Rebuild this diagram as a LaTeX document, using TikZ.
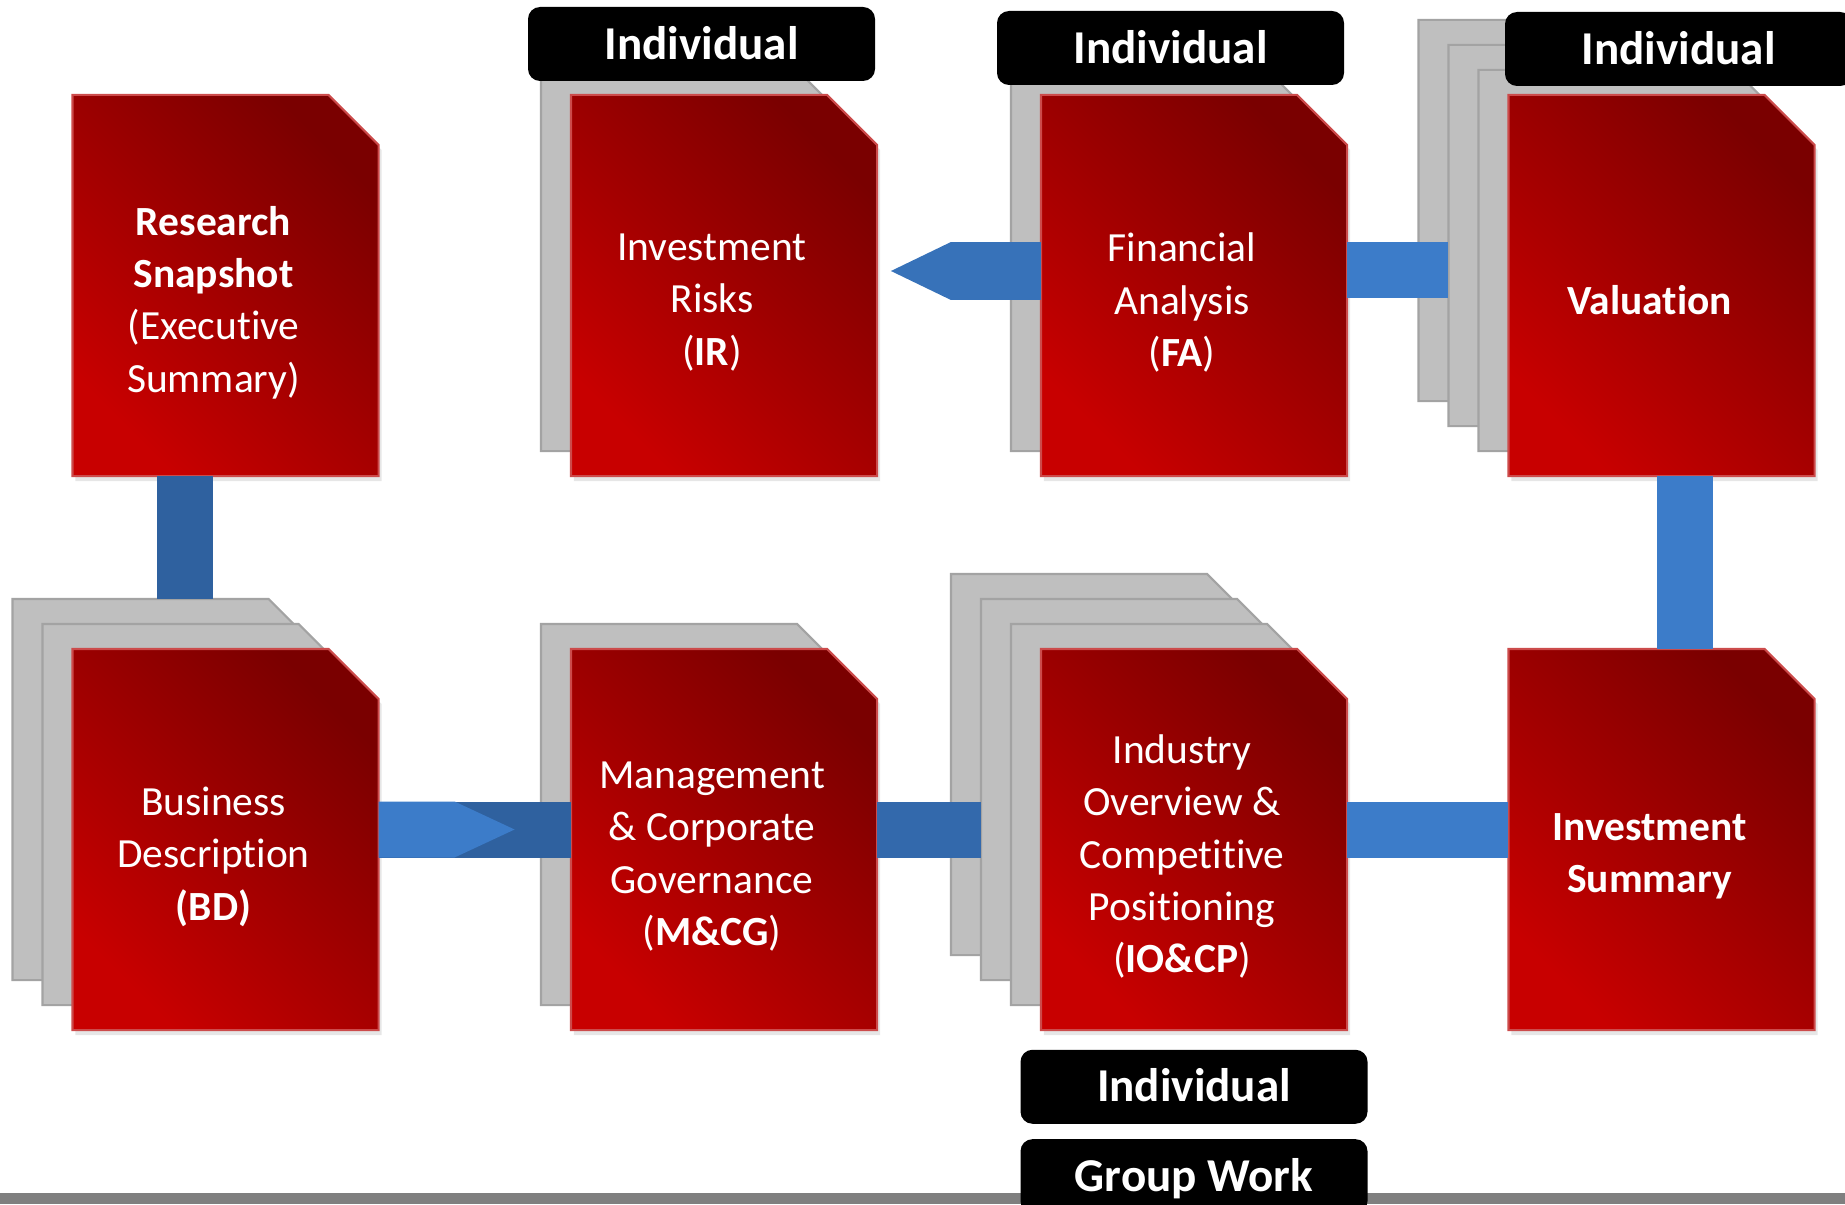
\documentclass[tikz,border=0pt]{standalone}
\usepackage{fontspec}
\setmainfont{Carlito}[Ligatures=NoCommon]
\usepackage{xcolor}
\usepackage{tikz}
\usetikzlibrary{positioning}
\usetikzlibrary{shadows}

\definecolor{sheetdark}{HTML}{7A0000}
\definecolor{sheetlight}{HTML}{C80000}
\definecolor{sheetedge}{HTML}{CC4B4B}
\definecolor{backfill}{HTML}{BFBFBF}
\definecolor{backedge}{HTML}{A3A3A3}
\definecolor{linklight}{HTML}{3C7CC9}
\definecolor{linkmid}{HTML}{3369AC}
\definecolor{linkdark}{HTML}{2F619F}
\definecolor{linkarrow}{HTML}{3772B9}
\definecolor{footgray}{HTML}{7F7F7F}

% rectangle with its upper right corner cut off
\makeatletter
\pgfdeclareshape{cutsheet}{
  \inheritsavedanchors[from=rectangle]
  \inheritanchorborder[from=rectangle]
  \inheritanchor[from=rectangle]{center}
  \inheritanchor[from=rectangle]{north}
  \inheritanchor[from=rectangle]{south}
  \inheritanchor[from=rectangle]{east}
  \inheritanchor[from=rectangle]{west}
  \inheritanchor[from=rectangle]{north west}
  \inheritanchor[from=rectangle]{south west}
  \inheritanchor[from=rectangle]{south east}
  \backgroundpath{
    \southwest \pgf@xa=\pgf@x \pgf@ya=\pgf@y
    \northeast \pgf@xb=\pgf@x \pgf@yb=\pgf@y
    \pgf@xc=\pgf@xb \advance\pgf@xc by -.5cm
    \pgf@yc=\pgf@yb \advance\pgf@yc by -.5cm
    \pgfpathmoveto{\pgfqpoint{\pgf@xa}{\pgf@ya}}
    \pgfpathlineto{\pgfqpoint{\pgf@xa}{\pgf@yb}}
    \pgfpathlineto{\pgfqpoint{\pgf@xc}{\pgf@yb}}
    \pgfpathlineto{\pgfqpoint{\pgf@xb}{\pgf@yc}}
    \pgfpathlineto{\pgfqpoint{\pgf@xb}{\pgf@ya}}
    \pgfpathclose
  }
}
\makeatother

\tikzset{
  sheet/.style={cutsheet, minimum width=3.04cm, minimum height=3.79cm,
    inner sep=0pt, line width=.6pt},
  back/.style={sheet, fill=backfill, draw=backedge},
  page/.style={sheet, draw=sheetedge, top color=sheetdark, bottom color=sheetlight,
    shading angle=-45, drop shadow={opacity=.2, shadow xshift=.03cm, shadow yshift=-.05cm}},
  pagetext/.style={text=white, align=center, font=\fontsize{11.8}{14.9}\selectfont},
  tag/.style={fill=black, rounded corners=.12cm, text=white, minimum width=3.47cm,
    minimum height=.74cm, inner sep=0pt, text height=8.6pt, text depth=0pt,
    font=\fontsize{13.4}{16}\selectfont\bfseries},
  link/.style={line width=.56cm},
}

\begin{document}
\begin{tikzpicture}
    \useasboundingbox (0,0) rectangle (18.45,-12.04);

    % sheet centres
    \coordinate (Crs)  at (2.255,-2.855);
    \coordinate (Cir)  at (7.24,-2.855);
    \coordinate (Cfa)  at (11.94,-2.855);
    \coordinate (Cval) at (16.615,-2.855);
    \coordinate (Cbd)  at (2.255,-8.395);
    \coordinate (Cmcg) at (7.24,-8.395);
    \coordinate (Cio)  at (11.94,-8.395);
    \coordinate (Cis)  at (16.615,-8.395);

    % grey sheets stacked behind
    \foreach \s/\n in {ir/1,fa/1,val/3,bd/2,mcg/1,io/3}
        \foreach \k in {\n,...,1}
            \node[back] (\s\k) at ([shift={(-.3*\k,.25*\k)}]C\s) {};

    % red sheets
    \node[page] (rs)  at (Crs)  {};
    \node[page] (ir)  at (Cir)  {};
    \node[page] (fa)  at (Cfa)  {};
    \node[page] (val) at (Cval) {};
    \node[page] (bd)  at (Cbd)  {};
    \node[page] (mcg) at (Cmcg) {};
    \node[page] (io)  at (Cio)  {};
    \node[page] (is)  at (Cis)  {};

    \node[pagetext] (rstxt)  at ([shift={(-.12,-.17)}]rs.center)  {\textbf{Research}\\\textbf{Snapshot}\\(Executive\\Summary)};
    \node[pagetext] (irtxt)  at ([shift={(-.12,-.17)}]ir.center)  {Investment\\Risks\\(\textbf{IR})};
    \node[pagetext] (fatxt)  at ([shift={(-.12,-.17)}]fa.center)  {Financial\\Analysis\\(\textbf{FA})};
    \node[pagetext] (valtxt) at ([shift={(-.12,-.15)}]val.center) {\textbf{Valuation}};
    \node[pagetext] (bdtxt)  at ([shift={(-.12,-.17)}]bd.center)  {Business\\Description\\\textbf{(BD)}};
    \node[pagetext] (mcgtxt) at ([shift={(-.12,-.17)}]mcg.center) {Management\\\& Corporate\\Governance\\(\textbf{M\&CG})};
    \node[pagetext] (iotxt)  at ([shift={(-.12,-.17)}]io.center)  {Industry\\Overview \&\\Competitive\\Positioning\\(\textbf{IO\&CP})};
    \node[pagetext] (istxt)  at ([shift={(-.12,-.17)}]is.center)  {\textbf{Investment}\\\textbf{Summary}};

    % links between the sheets
    \draw[link, linkdark] ([xshift=-.41cm]rs.south) coordinate (rsbd) -- (rsbd |- bd2.north);
    \draw[link, linkdark] ([yshift=.1cm]bd.east) coordinate (bdm) -- (bdm -| mcg.west);
    \fill[linklight] ([yshift=.38cm]bd.east) -- ++(.76,0) -- ++(.6,-.28) -- ++(-.6,-.28) -- ++(-.76,0) -- cycle;
    \draw[link, linkmid] ([yshift=.1cm]mcg.east) coordinate (mio) -- (mio -| io2.west);
    \draw[link, linklight] ([yshift=.1cm]io.east) coordinate (iis) -- (iis -| is.west);
    \draw[link, linklight] ([xshift=.235cm]is.north) coordinate (isv) -- (isv |- val.south);
    \draw[link, linklight] ([yshift=.155cm]fa.east) coordinate (fav) -- (fav -| val2.west);
    \fill[linkarrow] ([yshift=.435cm]fa.west) -- ++(-.9,0) -- ++(-.6,-.29) -- ++(.6,-.29) -- ++(.9,0) -- cycle;

    % who writes what
    \node[tag] (irtag)  at (7.015,-.44)  {Individual};
    \node[tag] (fatag)  at (11.705,-.48) {Individual};
    \node[tag] (valtag) at (16.785,-.49) {Individual};
    \node[tag, below=.19cm of io] (iotag) {Individual};

    \fill[footgray] (0,-11.93) rectangle (18.45,-12.04);
    \node[tag, below=.14cm of iotag] (grouptag) {Group Work};
\end{tikzpicture}
\end{document}
